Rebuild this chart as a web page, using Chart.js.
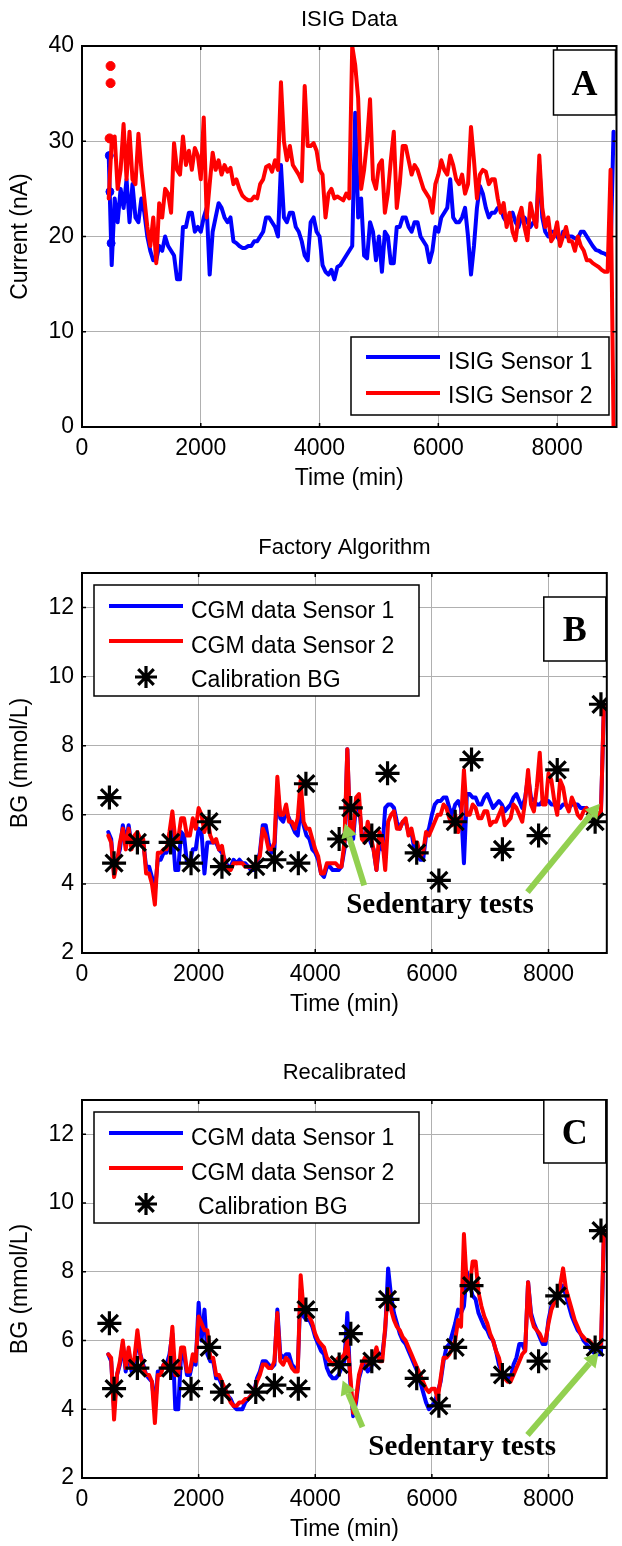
<!DOCTYPE html>
<html>
<head>
<meta charset="utf-8">
<script src="https://cdn.jsdelivr.net/npm/chart.js@4.4.1/dist/chart.umd.min.js"></script>
<style>
  html, body { margin: 0; padding: 0; background: #fff; }
  body { width: 622px; height: 1546px; position: relative; overflow: hidden; }
  canvas { position: absolute; left: 0; }
</style>
</head>
<body>
<canvas id="chartA" width="622" height="500" style="top:0px"></canvas>
<canvas id="chartB" width="622" height="506" style="top:520px"></canvas>
<canvas id="chartC" width="622" height="500" style="top:1046px"></canvas>
<script>
// shared time base (min), one sample every 50 min, 10 per row
const timeMin = [
  450,500,550,600,650,700,750,800,850,900,
  950,1000,1050,1100,1150,1200,1250,1300,1350,1400,
  1450,1500,1550,1600,1650,1700,1750,1800,1850,1900,
  1950,2000,2050,2100,2150,2200,2250,2300,2350,2400,
  2450,2500,2550,2600,2650,2700,2750,2800,2850,2900,
  2950,3000,3050,3100,3150,3200,3250,3300,3350,3400,
  3450,3500,3550,3600,3650,3700,3750,3800,3850,3900,
  3950,4000,4050,4100,4150,4200,4250,4300,4350,4400,
  4450,4500,4550,4600,4650,4700,4750,4800,4850,4900,
  4950,5000,5050,5100,5150,5200,5250,5300,5350,5400,
  5450,5500,5550,5600,5650,5700,5750,5800,5850,5900,
  5950,6000,6050,6100,6150,6200,6250,6300,6350,6400,
  6450,6500,6550,6600,6650,6700,6750,6800,6850,6900,
  6950,7000,7050,7100,7150,7200,7250,7300,7350,7400,
  7450,7500,7550,7600,7650,7700,7750,7800,7850,7900,
  7950,8000,8050,8100,8150,8200,8250,8300,8350,8400,
  8450,8500,8550,8600,8650,8700,8750,8800,8850,8900,
  8950];

// panel A: ISIG current (nA)
const isigSensor1 = [
  28.5,17,24,21.5,25,23,26,21.5,25.5,22,
  21.5,24,22.5,20,18.5,17.5,17.5,19,18.5,20,
  19,18.5,18,15.5,15.5,21,21,22.5,22.5,20.5,
  21,20.5,22,23,16,20.5,22,23.5,23,22,
  21.5,22,19.5,19.3,19,18.8,18.8,19,19,19.5,
  19.5,20,20.5,22,22,21.5,21,20,27.5,22,
  21.5,22.5,22.5,21,20.5,19.5,18,17.5,21.5,22,
  20.5,20,17,16.3,16,16.5,15.5,16.8,17,17.5,
  18,18.5,19,33,22,24,18,17.7,21.5,20.5,
  17.5,20,16.3,20.5,20,17.2,17.2,21,21,22,
  22,21,20.5,21.5,21.5,20,19.5,19,17.3,18.5,
  21,20.5,22,22.5,23,26,22,21.5,21.5,22,
  23,20,16,19,23,25.3,24.5,23,22,22.5,
  22.5,23,23,22,21.5,22,22.5,21.5,21,22,
  22,21.5,21,21.5,21.5,27.5,22,20.5,20,20.5,
  20.5,20,19.5,20.5,20,20,20,19.8,19.8,20.5,
  20.5,20,19.5,19,18.6,18.5,18.3,18.2,18,18.2,
  31];
const isigSensor2 = [
  24,30,30.5,25,27,31.8,26,31,26,25.5,
  30.8,27,24,21,19,22,17.2,23.5,22,25,
  24.5,22.5,29.8,27,26.5,30.5,27.5,29,27,29.3,
  28.5,26,32.5,22,25.5,28.8,27,28,26.5,27.5,
  26.8,27.2,25.5,26,25,24.3,24,23.8,23.8,24.2,
  24,25.5,26,27.3,27.5,26.8,28,27,36.2,30,
  28,29.5,27.5,27,26.5,25.8,35.8,29.5,29.5,29.8,
  29,27,26.5,22,24.5,25,24,24.2,24,23.8,
  24.5,24,40,38,34.5,25,27,30,34.4,26,
  25,27.5,28,22.5,24.5,28,31,23,25.5,29.5,
  29.5,28,26.5,27.5,27,26,25,24.5,24,22.5,
  25.5,26.5,28,27,26.5,28.5,27.5,26,25.5,26.5,
  24.5,25.5,31.5,28,24,26.5,27,26.8,25.5,26,
  26,24,22.5,23.5,21,22.5,20.5,19.6,22,23,
  21,19.6,23.5,22,21,28.5,23,21,22,19.5,
  20,21.5,19,20,21,19.5,19.5,18.5,20,19,
  18.5,17.5,17.5,17.2,17,16.8,16.5,16.3,16.3,27,
  0];
const isigDotTime1 = [460, 470, 490];
const isigDotValue1 = [28.5, 24.7, 19.3];
const isigDotTime2 = [465, 481, 481];
const isigDotValue2 = [30.3, 36.1, 37.9];

// panel B: factory algorithm (mmol/L)
const factorySensor1 = [
  5.5,5.3,4.3,4.7,5.0,5.7,5.2,5.7,5.1,5.3,
  5.3,5.2,5.2,4.5,4.5,4.2,3.8,4.7,4.7,4.9,
  4.9,5.2,5.6,4.4,4.4,5.5,5.4,4.6,4.6,5.0,
  5.0,5.6,5.5,4.3,5.2,5.2,5.2,5.2,5.0,4.9,
  4.7,4.5,4.5,4.7,4.6,4.7,4.6,4.6,4.5,4.4,
  4.4,4.6,4.9,5.7,5.7,5.2,4.9,5.0,6.8,5.9,
  5.8,6.1,5.9,5.7,5.5,5.4,6.2,5.7,5.4,5.3,
  5.0,4.9,4.7,4.3,4.2,4.5,4.5,4.4,4.4,4.4,
  4.5,5.0,7.9,5.3,5.3,6.3,6.3,5.4,5.4,5.6,
  5.2,5.0,4.4,5.2,5.0,6.2,6.3,6.3,6.2,5.8,
  5.6,5.8,5.8,5.5,5.5,5.0,4.9,4.7,4.7,5.4,
  5.6,6.0,6.3,6.4,6.4,6.5,6.5,6.2,6.0,6.3,
  6.4,6.2,4.6,6.6,6.6,6.5,6.5,6.3,6.3,6.5,
  6.6,6.4,6.2,6.3,6.4,6.3,6.1,6.2,6.3,6.5,
  6.6,6.4,6.2,6.5,7.1,6.5,6.4,6.3,6.3,6.4,
  6.4,6.4,6.3,6.3,6.2,6.2,6.3,6.3,6.2,6.3,
  6.3,6.3,6.2,6.2,6.2,6.1,6.1,6.0,6.0,6.1,
  9.1];
const factorySensor2 = [
  5.4,5.2,4.2,4.6,5.2,5.6,5.0,5.6,5.0,5.4,
  5.5,5.3,5.3,4.3,4.3,4.0,3.4,4.9,4.9,5.0,
  5.0,5.5,6.1,5.3,5.3,5.9,5.9,5.4,5.4,5.9,
  5.6,6.2,6.0,5.5,5.9,5.4,5.2,5.3,5.0,5.1,
  4.6,4.4,4.4,4.6,4.6,4.6,4.6,4.5,4.5,4.5,
  4.5,4.7,4.8,5.6,5.4,5.0,5.0,5.2,7.1,6.0,
  6.0,6.3,5.8,5.8,5.6,5.9,7.0,5.8,5.6,5.6,
  5.3,5.0,4.8,4.3,4.3,4.6,4.6,4.6,4.6,4.5,
  4.5,5.2,7.9,5.5,5.5,6.5,6.6,5.3,5.2,5.8,
  5.4,5.0,4.4,5.5,5.3,4.4,5.8,6.0,6.1,5.6,
  5.6,5.8,5.9,5.4,5.6,5.2,5.2,4.8,4.9,5.5,
  5.4,5.6,5.8,6.0,6.0,6.3,6.2,5.9,5.7,6.0,
  5.5,5.8,7.3,6.0,6.0,6.3,6.2,5.9,5.9,6.1,
  6.1,5.7,5.8,5.8,6.0,6.2,5.7,5.8,5.9,6.3,
  6.2,6.0,5.8,6.4,7.3,6.3,6.1,6.8,7.8,6.3,
  6.3,7.2,7.0,6.4,6.0,7.0,6.8,6.3,6.1,6.5,
  6.3,6.0,5.9,6.1,6.2,6.0,6.1,6.1,6.0,6.1,
  9.2];

// panel C: recalibrated (mmol/L)
const recalSensor1 = [
  5.6,5.4,4.0,5.0,5.3,5.9,5.1,5.7,5.1,5.4,
  6.0,5.6,5.3,5.0,4.9,4.8,4.0,5.1,5.1,5.3,
  5.3,5.6,6.2,4.0,4.0,5.6,5.6,5.0,5.0,5.4,
  5.3,7.1,6.0,6.9,5.6,5.4,5.4,4.9,4.9,4.7,
  4.6,4.4,4.3,4.1,4.0,4.0,4.0,4.2,4.3,4.4,
  4.5,4.9,5.1,5.4,5.4,5.3,5.2,5.3,6.9,5.6,
  5.5,5.6,5.6,5.3,5.2,5.2,7.5,6.7,6.6,6.6,
  6.4,6.1,5.9,5.7,5.6,5.2,5.0,4.9,4.9,5.0,
  5.2,5.4,6.8,4.8,3.8,4.2,4.9,5.2,5.3,5.1,
  5.2,5.4,5.7,5.6,5.6,6.3,8.1,7.3,6.8,6.5,
  6.2,6.0,5.9,5.7,5.5,5.3,5.1,4.8,4.5,4.2,
  4.0,4.1,4.2,4.5,4.8,5.4,5.8,5.9,6.2,6.5,
  6.9,6.8,7.0,8.0,7.6,7.3,7.2,6.8,6.6,6.4,
  6.3,6.1,6.0,5.7,5.3,5.1,5.0,4.9,4.9,5.3,
  5.5,5.9,5.9,5.7,7.7,6.8,6.5,6.3,6.1,5.9,
  5.9,6.6,7.0,7.2,7.3,7.5,7.6,7.3,7.0,6.7,
  6.5,6.3,6.2,6.0,5.9,5.8,5.7,5.6,5.6,5.6,
  9.1];
const recalSensor2 = [
  5.6,5.5,3.7,5.0,5.4,6.0,5.2,5.8,5.2,5.5,
  6.3,5.6,5.2,5.0,5.0,4.8,3.6,5.0,5.0,5.3,
  5.2,5.4,6.4,5.0,5.0,5.8,5.8,5.1,5.1,5.6,
  5.4,6.7,6.5,6.3,6.3,5.5,5.5,5.0,5.0,4.8,
  4.6,4.4,4.2,4.1,4.1,4.2,4.2,4.3,4.3,4.4,
  4.5,4.8,5.0,5.3,5.3,5.2,5.2,5.4,6.8,5.4,
  5.3,5.5,5.4,5.2,5.1,5.1,7.9,6.9,6.8,6.7,
  6.5,6.2,6.0,5.9,5.8,5.5,5.4,5.3,5.4,5.5,
  5.5,5.6,6.0,5.0,3.9,4.3,5.0,5.3,5.5,5.3,
  5.3,5.5,5.8,5.4,5.4,6.4,7.5,6.9,6.6,6.4,
  6.3,6.1,6.0,5.8,5.6,5.4,5.2,5.0,4.8,4.6,
  4.5,4.6,4.6,4.3,4.9,5.5,5.5,5.6,5.8,6.0,
  6.6,6.4,9.1,7.6,7.6,8.3,8.3,7.4,7.0,6.7,
  6.5,6.2,6.0,5.7,5.5,5.1,4.9,4.8,4.8,5.0,
  5.2,5.4,5.6,5.7,7.7,6.7,6.4,6.3,6.2,6.0,
  6.0,6.5,6.9,7.1,7.3,7.6,8.1,7.5,7.2,6.9,
  6.6,6.4,6.2,6.1,6.0,6.0,5.9,5.8,5.8,5.9,
  9.2];

// calibration fingerstick BG (same in B and C)
const calTime = [470,550,950,1520,1870,2180,2400,2980,3300,3710,3840,4410,4610,4970,5240,5740,6120,6400,6680,7210,7830,8150,8800,8900];
const calBG = [6.5,4.6,5.2,5.2,4.6,5.8,4.5,4.5,4.7,4.6,6.9,5.3,6.2,5.4,7.2,4.9,4.1,5.8,7.6,5.0,5.4,7.3,5.8,9.2];

// axis ticks
const timeTicks = [0, 2000, 4000, 6000, 8000];
const currentTicks = [0, 10, 20, 30, 40];
const bgTicks = [2, 4, 6, 8, 10, 12];

const SANS = "'Liberation Sans', Arial, sans-serif";
const SERIF = "'Liberation Serif', 'Times New Roman', serif";
const BLUE = '#0000ff';
const RED = '#ff0000';
const GREEN = '#92d050';

Chart.defaults.font.family = SANS;
Chart.defaults.color = '#000';

function pairs(xs, ys) {
  return xs.map((x, i) => ({ x: x, y: ys[i] }));
}

function drawStar(ctx, x, y, r) {
  const d = r * Math.SQRT1_2;
  ctx.beginPath();
  ctx.moveTo(x - r, y); ctx.lineTo(x + r, y);
  ctx.moveTo(x, y - r); ctx.lineTo(x, y + r);
  ctx.moveTo(x - d, y - d); ctx.lineTo(x + d, y + d);
  ctx.moveTo(x - d, y + d); ctx.lineTo(x + d, y - d);
  ctx.stroke();
}

function drawArrow(ctx, x1, y1, x2, y2) {
  const ang = Math.atan2(y2 - y1, x2 - x1);
  const head = 14, half = 8;
  const bx = x2 - head * Math.cos(ang), by = y2 - head * Math.sin(ang);
  ctx.strokeStyle = GREEN;
  ctx.fillStyle = GREEN;
  ctx.lineWidth = 6;
  ctx.lineCap = 'butt';
  ctx.beginPath(); ctx.moveTo(x1, y1); ctx.lineTo(bx, by); ctx.stroke();
  ctx.beginPath();
  ctx.moveTo(x2, y2);
  ctx.lineTo(bx + half * Math.sin(ang), by - half * Math.cos(ang));
  ctx.lineTo(bx - half * Math.sin(ang), by + half * Math.cos(ang));
  ctx.closePath();
  ctx.fill();
}

// frame, title, letter box, legend and notes in MATLAB style
const matlabDecor = {
  id: 'matlabDecor',
  afterDraw(chart, args, opts) {
    const ctx = chart.ctx;
    const a = chart.chartArea;
    const xs = chart.scales.x, ys = chart.scales.y;
    ctx.save();

    // arrows + note
    (opts.arrows || []).forEach(ar => {
      drawArrow(ctx, xs.getPixelForValue(ar.from[0]), ys.getPixelForValue(ar.from[1]),
        xs.getPixelForValue(ar.to[0]), ys.getPixelForValue(ar.to[1]));
    });
    if (opts.note) {
      ctx.fillStyle = '#000';
      ctx.font = 'bold 29px ' + SERIF;
      ctx.textAlign = 'left';
      ctx.textBaseline = 'alphabetic';
      ctx.fillText(opts.note.text, xs.getPixelForValue(opts.note.at[0]), ys.getPixelForValue(opts.note.at[1]));
    }

    // frame and inward ticks
    ctx.strokeStyle = '#000';
    ctx.lineWidth = 2;
    ctx.strokeRect(a.left, a.top, a.right - a.left, a.bottom - a.top);
    ctx.lineWidth = 1.5;
    ctx.beginPath();
    xs.ticks.forEach(t => {
      const px = xs.getPixelForValue(t.value);
      ctx.moveTo(px, a.bottom); ctx.lineTo(px, a.bottom - 4);
      ctx.moveTo(px, a.top); ctx.lineTo(px, a.top + 4);
    });
    ys.ticks.forEach(t => {
      const py = ys.getPixelForValue(t.value);
      ctx.moveTo(a.left, py); ctx.lineTo(a.left + 4, py);
      ctx.moveTo(a.right, py); ctx.lineTo(a.right - 4, py);
    });
    ctx.stroke();

    // title
    ctx.fillStyle = '#000';
    ctx.font = '22px ' + SANS;
    ctx.textAlign = 'center';
    ctx.textBaseline = 'middle';
    ctx.fillText(opts.title, (a.left + a.right) / 2, opts.titleY);

    // letter box
    const lb = opts.letterBox;
    const lx = a.right - 63, ly = a.top + lb.dy;
    ctx.fillStyle = '#fff';
    ctx.fillRect(lx, ly, 62, lb.h);
    ctx.strokeStyle = '#000';
    ctx.lineWidth = 1.5;
    ctx.strokeRect(lx, ly, 62, lb.h);
    ctx.fillStyle = '#000';
    ctx.font = 'bold 36px ' + SERIF;
    ctx.textAlign = 'center';
    ctx.textBaseline = 'alphabetic';
    ctx.fillText(opts.letter, lx + 31, ly + lb.h / 2 + 12);

    // legend
    const lg = opts.legend;
    const gx = a.left + lg.x, gy = a.top + lg.y;
    ctx.fillStyle = '#fff';
    ctx.fillRect(gx, gy, lg.w, lg.h);
    ctx.strokeStyle = '#000';
    ctx.lineWidth = 1.5;
    ctx.strokeRect(gx, gy, lg.w, lg.h);
    ctx.font = '23px ' + SANS;
    ctx.textAlign = 'left';
    ctx.textBaseline = 'alphabetic';
    lg.items.forEach(it => {
      if (it.kind === 'line') {
        ctx.strokeStyle = it.color;
        ctx.lineWidth = 4;
        ctx.lineCap = 'butt';
        ctx.beginPath();
        ctx.moveTo(gx + 15, gy + it.markY);
        ctx.lineTo(gx + 89, gy + it.markY);
        ctx.stroke();
      } else {
        ctx.strokeStyle = '#000';
        ctx.lineWidth = 3.2;
        drawStar(ctx, gx + 52, gy + it.markY, 11);
      }
      ctx.fillStyle = '#000';
      ctx.fillText(it.label, gx + (it.textX || 97), gy + it.textY);
    });
    ctx.restore();
  }
};

function makePanel(id, cfg) {
  const tickFont = { size: 23, family: SANS };
  const datasets = cfg.series.map(s => ({
    label: s.label,
    data: s.data,
    order: s.order,
    borderColor: s.color,
    backgroundColor: s.color,
    borderWidth: s.width,
    showLine: s.showLine,
    pointRadius: s.radius,
    pointStyle: s.pointStyle || 'circle',
    pointBorderWidth: s.pointBorder || 1,
    borderJoinStyle: 'round',
    borderCapStyle: 'round',
    tension: 0
  }));
  return new Chart(document.getElementById(id), {
    type: 'line',
    data: { datasets: datasets },
    plugins: [matlabDecor],
    options: {
      responsive: false,
      animation: false,
      devicePixelRatio: 1,
      layout: { padding: { top: cfg.plotTop, right: 3, left: 0, bottom: 0 } },
      plugins: {
        legend: { display: false },
        tooltip: { enabled: false },
        matlabDecor: cfg.decor
      },
      scales: {
        x: {
          type: 'linear',
          min: 0,
          max: 9000,
          afterBuildTicks: s => { s.ticks = timeTicks.map(v => ({ value: v })); },
          afterFit: s => { s.height = cfg.xAxisHeight; },
          border: { display: false },
          grid: { color: '#b0b0b0', lineWidth: 1, drawTicks: false },
          ticks: { font: tickFont, color: '#000', padding: 8, maxRotation: 0, autoSkip: false, callback: v => String(v) },
          title: { display: true, text: 'Time (min)', color: '#000', font: tickFont, padding: { top: 0, bottom: cfg.xTitlePad } }
        },
        y: {
          type: 'linear',
          min: cfg.yMin,
          max: cfg.yMax,
          afterBuildTicks: s => { s.ticks = cfg.yTicks.map(v => ({ value: v })); },
          afterFit: s => { s.width = 82; },
          border: { display: false },
          grid: { color: '#b0b0b0', lineWidth: 1, drawTicks: false },
          ticks: { font: tickFont, color: '#000', padding: 8, autoSkip: false, callback: v => String(v) },
          title: { display: true, text: cfg.yTitle, color: '#000', font: tickFont, padding: { top: 7, bottom: 0 } }
        }
      }
    }
  });
}

function cgmSeries(s1, s2) {
  return [
    { label: 'Calibration BG', data: pairs(calTime, calBG), order: 0, color: '#000', width: 0, showLine: false, radius: 12, pointStyle: 'star', pointBorder: 3.2 },
    { label: 'CGM data Sensor 2', data: pairs(timeMin, s2), order: 1, color: RED, width: 4, showLine: true, radius: 0 },
    { label: 'CGM data Sensor 1', data: pairs(timeMin, s1), order: 2, color: BLUE, width: 4, showLine: true, radius: 0 }
  ];
}

function cgmLegend(calTextX) {
  return {
    x: 12, y: 12, w: 325, h: 111,
    items: [
      { kind: 'line', color: BLUE, label: 'CGM data Sensor 1', markY: 21, textY: 33 },
      { kind: 'line', color: RED, label: 'CGM data Sensor 2', markY: 56, textY: 68 },
      { kind: 'star', label: 'Calibration BG', markY: 92, textY: 102, textX: calTextX }
    ]
  };
}

makePanel('chartA', {
  plotTop: 46, xAxisHeight: 73, xTitlePad: 8,
  yMin: 0, yMax: 40, yTicks: currentTicks, yTitle: 'Current (nA)',
  series: [
    { label: 'dots 2', data: pairs(isigDotTime2, isigDotValue2), order: 0, color: RED, width: 0, showLine: false, radius: 4.5 },
    { label: 'ISIG Sensor 2', data: pairs(timeMin, isigSensor2), order: 1, color: RED, width: 4, showLine: true, radius: 0 },
    { label: 'dots 1', data: pairs(isigDotTime1, isigDotValue1), order: 2, color: BLUE, width: 0, showLine: false, radius: 4 },
    { label: 'ISIG Sensor 1', data: pairs(timeMin, isigSensor1), order: 3, color: BLUE, width: 4, showLine: true, radius: 0 }
  ],
  decor: {
    title: 'ISIG Data', titleY: 20,
    letter: 'A', letterBox: { dy: 4, h: 65 },
    legend: {
      x: 269, y: 291, w: 258, h: 78,
      items: [
        { kind: 'line', color: BLUE, label: 'ISIG Sensor 1', markY: 20, textY: 32 },
        { kind: 'line', color: RED, label: 'ISIG Sensor 2', markY: 56, textY: 66 }
      ]
    }
  }
});

makePanel('chartB', {
  plotTop: 53, xAxisHeight: 73, xTitlePad: 8,
  yMin: 2, yMax: 13, yTicks: bgTicks, yTitle: 'BG (mmol/L)',
  series: cgmSeries(factorySensor1, factorySensor2),
  decor: {
    title: 'Factory Algorithm', titleY: 28,
    letter: 'B', letterBox: { dy: 24, h: 64 },
    legend: cgmLegend(97),
    arrows: [ { from: [4840, 3.96], to: [4510, 5.75] }, { from: [7640, 3.76], to: [8880, 6.32] } ],
    note: { text: 'Sedentary tests', at: [4530, 3.17] }
  }
});

makePanel('chartC', {
  plotTop: 54, xAxisHeight: 68, xTitlePad: 3,
  yMin: 2, yMax: 13, yTicks: bgTicks, yTitle: 'BG (mmol/L)',
  series: cgmSeries(recalSensor1, recalSensor2),
  decor: {
    title: 'Recalibrated', titleY: 27,
    letter: 'C', letterBox: { dy: 0, h: 63 },
    legend: cgmLegend(104),
    arrows: [ { from: [4810, 3.48], to: [4470, 4.84] }, { from: [7640, 3.25], to: [8860, 5.65] } ],
    note: { text: 'Sedentary tests', at: [4910, 2.67] }
  }
});
</script>
</body>
</html>
